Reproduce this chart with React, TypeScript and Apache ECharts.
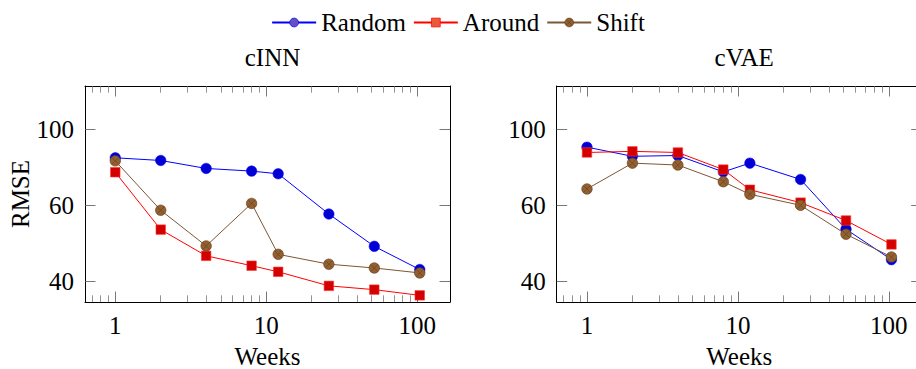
import React, { useEffect, useRef } from "react";
import * as echarts from "echarts";

const weeks = [1, 2, 4, 8, 12, 26, 52, 104];
const seriesNames = ["Random", "Around", "Shift"];

const cinnRandom = [72.5, 71.8, 69.7, 69.0, 68.3, 57.7, 49.2, 43.1];
const cinnAround = [68.7, 53.6, 46.7, 44.1, 42.5, 38.8, 37.8, 36.3];
const cinnShift = [71.7, 58.7, 49.3, 60.5, 47.1, 44.5, 43.5, 42.2];

const cvaeRandom = [75.3, 72.9, 73.1, 68.8, 71.1, 66.8, 53.7, 45.7];
const cvaeAround = [73.9, 74.2, 73.9, 69.4, 64.1, 60.7, 56.0, 49.7];
const cvaeShift = [64.3, 71.1, 70.6, 66.2, 62.9, 60.0, 52.4, 46.4];

const panelTitles = ["cINN", "cVAE"];
const xMajorTicks = [1, 10, 100];
const xMinorTicks = [0.7, 0.8, 0.9, 2, 3, 4, 5, 6, 7, 8, 9, 20, 30, 40, 50, 60, 70, 80, 90];
const yTickValues = [40, 60, 80];
const yTickLabels = ["40", "60", "100"];

const FONT = "'Liberation Serif', 'DejaVu Serif', serif";
const FS = 25;

const otimes =
  "path://M-1,0A1,1,0,1,0,1,0A1,1,0,1,0,-1,0ZM-0.7071,-0.7071L0.7071,0.7071M-0.7071,0.7071L0.7071,-0.7071";

export default function App() {
  const ref = useRef<HTMLDivElement>(null);
  useEffect(() => {
    if (!ref.current) return;
    const chart = echarts.init(ref.current, undefined, { renderer: "svg" });

    const grids = [
      { left: 85, top: 86, width: 365, height: 216 },
      { left: 556.7, top: 86, width: 365, height: 216 },
    ];

    const xAxes: any[] = [];
    const yAxes: any[] = [];
    grids.forEach((_, gi) => {
      const base = {
        type: "log",
        logBase: 10,
        min: 0.63,
        max: 165,
        gridIndex: gi,
        splitLine: { show: false },
      };
      xAxes.push({
        ...base,
        position: "bottom",
        name: "Weeks",
        nameLocation: "middle",
        nameGap: 42,
        nameTextStyle: { fontFamily: FONT, fontSize: FS, color: "#000" },
        axisLine: { show: true, lineStyle: { color: "#000", width: 1 } },
        axisTick: {
          show: true,
          inside: true,
          length: 10.5,
          customValues: xMajorTicks,
          lineStyle: { color: "#555", width: 0.8 },
        },
        axisLabel: {
          show: true,
          customValues: xMajorTicks,
          fontFamily: FONT,
          fontSize: FS,
          color: "#000",
          margin: 11,
          formatter: (v: number) => String(Math.round(v)),
        },
      });
      xAxes.push({
        ...base,
        position: "bottom",
        axisLine: { show: false },
        axisTick: {
          show: true,
          inside: true,
          length: 6.7,
          customValues: xMinorTicks,
          lineStyle: { color: "#666", width: 0.7 },
        },
        axisLabel: { show: false },
      });
      xAxes.push({
        ...base,
        position: "top",
        axisLine: { show: true, lineStyle: { color: "#000", width: 1 } },
        axisTick: {
          show: true,
          inside: true,
          length: 10.5,
          customValues: xMajorTicks,
          lineStyle: { color: "#555", width: 0.8 },
        },
        axisLabel: { show: false },
      });
      xAxes.push({
        ...base,
        position: "top",
        axisLine: { show: false },
        axisTick: {
          show: true,
          inside: true,
          length: 6.7,
          customValues: xMinorTicks,
          lineStyle: { color: "#666", width: 0.7 },
        },
        axisLabel: { show: false },
      });

      const ybase = {
        type: "value",
        min: 34.55,
        max: 91.4,
        gridIndex: gi,
        splitLine: { show: false },
      };
      yAxes.push({
        ...ybase,
        position: "left",
        name: gi === 0 ? "RMSE" : "",
        nameLocation: "middle",
        nameRotate: 90,
        nameGap: 48,
        nameTextStyle: { fontFamily: FONT, fontSize: FS, color: "#000" },
        axisLine: { show: true, lineStyle: { color: "#000", width: 1 } },
        axisTick: {
          show: true,
          inside: true,
          length: 10.5,
          customValues: yTickValues,
          lineStyle: { color: "#555", width: 0.8 },
        },
        axisLabel: {
          show: true,
          customValues: yTickValues,
          fontFamily: FONT,
          fontSize: FS,
          color: "#000",
          margin: 11,
          formatter: (v: number) => {
            const i = yTickValues.indexOf(Math.round(v));
            return i >= 0 ? yTickLabels[i] : "";
          },
        },
      });
      yAxes.push({
        ...ybase,
        position: "right",
        axisLine: { show: true, lineStyle: { color: "#000", width: 1 } },
        axisTick: {
          show: true,
          inside: true,
          length: 10.5,
          customValues: yTickValues,
          lineStyle: { color: "#555", width: 0.8 },
        },
        axisLabel: { show: false },
      });
    });

    const pairs = (ys: number[]) => weeks.map((w, i) => [w, ys[i]]);

    const styles = [
      { symbol: "circle", symbolSize: 10.5, line: "#0000ff", fill: "#0000d4", border: "#0000ff", bw: 0.5 },
      { symbol: "rect", symbolSize: 9.5, line: "#ff0000", fill: "#d40000", border: "#ff3333", bw: 0.6 },
      { symbol: otimes, symbolSize: 10.5, line: "#7d5633", fill: "#93602f", border: "#6a4424", bw: 0.7 },
    ];

    const panelData = [
      [cinnRandom, cinnAround, cinnShift],
      [cvaeRandom, cvaeAround, cvaeShift],
    ];

    const series: any[] = [];
    panelData.forEach((sets, gi) => {
      sets.forEach((ys, si) => {
        const st = styles[si];
        series.push({
          type: "line",
          name: seriesNames[si],
          xAxisIndex: gi * 4,
          yAxisIndex: gi * 2,
          data: pairs(ys),
          symbol: st.symbol,
          symbolSize: st.symbolSize,
          showAllSymbol: true,
          lineStyle: { color: st.line, width: 1 },
          itemStyle: { color: st.fill, borderColor: st.border, borderWidth: st.bw },
          emphasis: { disabled: true },
          z: 2 + si,
        });
      });
    });

    const legendColors = [
      { color: "#6650c0", borderColor: "#0000ff" },
      { color: "#e85a3a", borderColor: "#ff0000" },
      { color: "#8f5f30", borderColor: "#6a4424" },
    ];

    chart.setOption({
      animation: false,
      backgroundColor: "#ffffff",
      title: panelTitles.map((t, i) => ({
        text: t,
        left: grids[i].left + grids[i].width / 2,
        top: 40,
        textAlign: "center",
        textStyle: { fontFamily: FONT, fontSize: FS, fontWeight: "normal", color: "#000" },
      })),
      legend: {
        top: 5,
        left: "center",
        itemWidth: 44,
        itemHeight: 11,
        itemGap: 7,
        textStyle: { fontFamily: FONT, fontSize: FS, color: "#000" },
        data: seriesNames.map((n, i) => ({
          name: n,
          itemStyle: { ...legendColors[i], borderWidth: 0.7 },
        })),
      },
      grid: grids.map((g) => ({ ...g, outerBoundsMode: "none", containLabel: false })),
      xAxis: xAxes,
      yAxis: yAxes,
      series,
    });

    return () => chart.dispose();
  }, []);

  return (
    <div
      ref={ref}
      style={{ position: "fixed", left: 0, top: 0, width: 916, height: 369 }}
    />
  );
}
